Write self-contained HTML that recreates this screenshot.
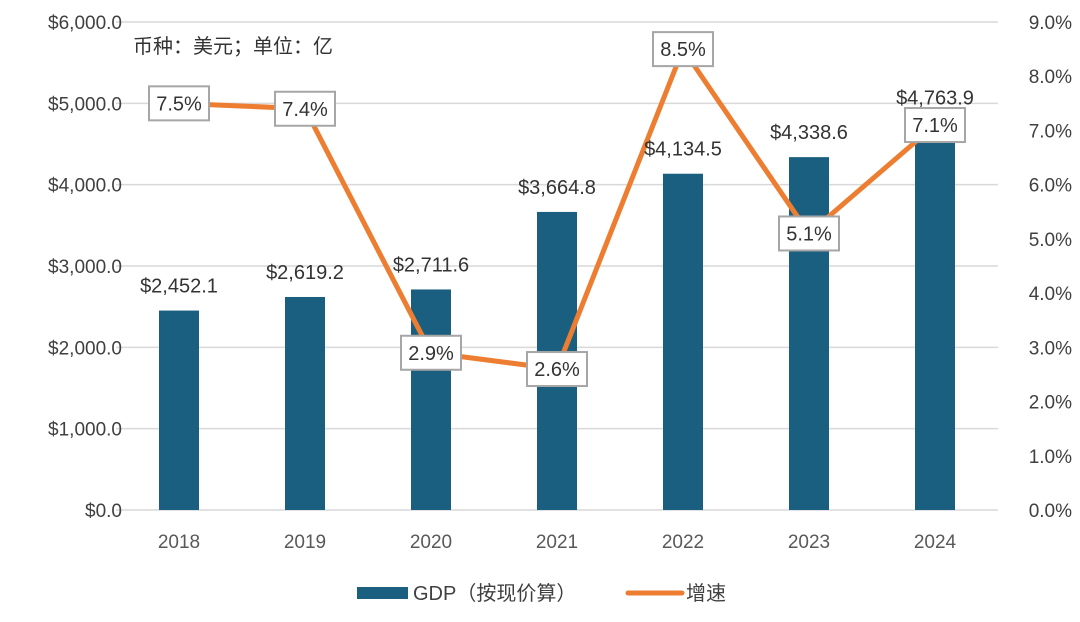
<!DOCTYPE html>
<html><head><meta charset="utf-8"><style>
body{margin:0;background:#fff;}
svg text{font-family:"Liberation Sans","Noto Sans CJK SC",sans-serif;}
</style></head><body>
<svg id="c" width="1080" height="617" xmlns="http://www.w3.org/2000/svg">
<rect width="1080" height="617" fill="#fff"/>
<g id="grid"></g>
<g id="bars"></g>
<g id="line"></g>
<g id="labels"></g>
<text x="133" y="53" font-size="20" fill="#333">币种：美元；单位：亿</text>
<rect x="357" y="587" width="51" height="12" fill="#1a5f7f"/>
<text x="413" y="600" font-size="20" fill="#404040">GDP（按现价算）</text>
<line x1="628" y1="593" x2="682" y2="593" stroke="#ed7d31" stroke-width="5" stroke-linecap="round"/>
<text x="686" y="600" font-size="20" fill="#404040">增速</text>
</svg>
<script>
const categories=["2018","2019","2020","2021","2022","2023","2024"];
const gdpValues=[2452.1,2619.2,2711.6,3664.8,4134.5,4338.6,4763.9];
const growthValues=[7.5,7.4,2.9,2.6,8.5,5.1,7.1];
const leftTicks=[0,1000,2000,3000,4000,5000,6000];
const rightTicks=[0,1,2,3,4,5,6,7,8,9];
const NS="http://www.w3.org/2000/svg";
const x0=116,x1=998,yTop=22,yBot=510;
const band=(x1-x0)/categories.length;
const xc=i=>x0+band*(i+0.5);
const yL=v=>yBot-(v/6000)*(yBot-yTop);
const yR=v=>yBot-(v/9)*(yBot-yTop);
function mk(tag,attrs,parent,txt){const e=document.createElementNS(NS,tag);for(const k in attrs)e.setAttribute(k,attrs[k]);if(txt!==undefined)e.textContent=txt;document.getElementById(parent).appendChild(e);return e;}
const fmt=v=>"$"+v.toLocaleString("en-US",{minimumFractionDigits:1,maximumFractionDigits:1});
leftTicks.forEach(t=>{
  const g=mk("line",{x1:x0,x2:x1,y1:yL(t),y2:yL(t),stroke:"#d9d9d9","stroke-width":1.5},"grid");
  
  
  const l=mk("text",{x:122,y:yL(t)+7,"text-anchor":"end","font-size":19,fill:"#404040"},"grid",fmt(t));
  
  
});
rightTicks.forEach(t=>{
  const l=mk("text",{x:1072,y:yR(t)+7,"text-anchor":"end","font-size":19,fill:"#404040"},"grid",t.toFixed(1)+"%");
  
  
});
categories.forEach((c,i)=>{
  const b=mk("rect",{x:xc(i)-20,y:yL(gdpValues[i]),width:40,height:yBot-yL(gdpValues[i]),fill:"#1a5f7f"},"bars");
  
  
  const xl=mk("text",{x:xc(i),y:548,"text-anchor":"middle","font-size":19,fill:"#595959"},"grid",c);
  
  
  const vl=mk("text",{x:xc(i),y:yL(gdpValues[i])-18,"text-anchor":"middle","font-size":20,fill:"#333"},"labels",fmt(gdpValues[i]));
  
  
});
const pts=growthValues.map((v,i)=>xc(i)+","+yR(v)).join(" ");
const pl=mk("polyline",{points:pts,fill:"none",stroke:"#ed7d31","stroke-width":5,"stroke-linejoin":"round"},"line");


growthValues.forEach((v,i)=>{
  const bx=mk("rect",{x:xc(i)-30,y:yR(v)-17,width:60,height:34,fill:"#fff",stroke:"#a6a6a6","stroke-width":2},"labels");
  
  
  const t=mk("text",{x:xc(i),y:yR(v)+7,"text-anchor":"middle","font-size":20,fill:"#333"},"labels",v.toFixed(1)+"%");
  
  
});
</script>
</body></html>
